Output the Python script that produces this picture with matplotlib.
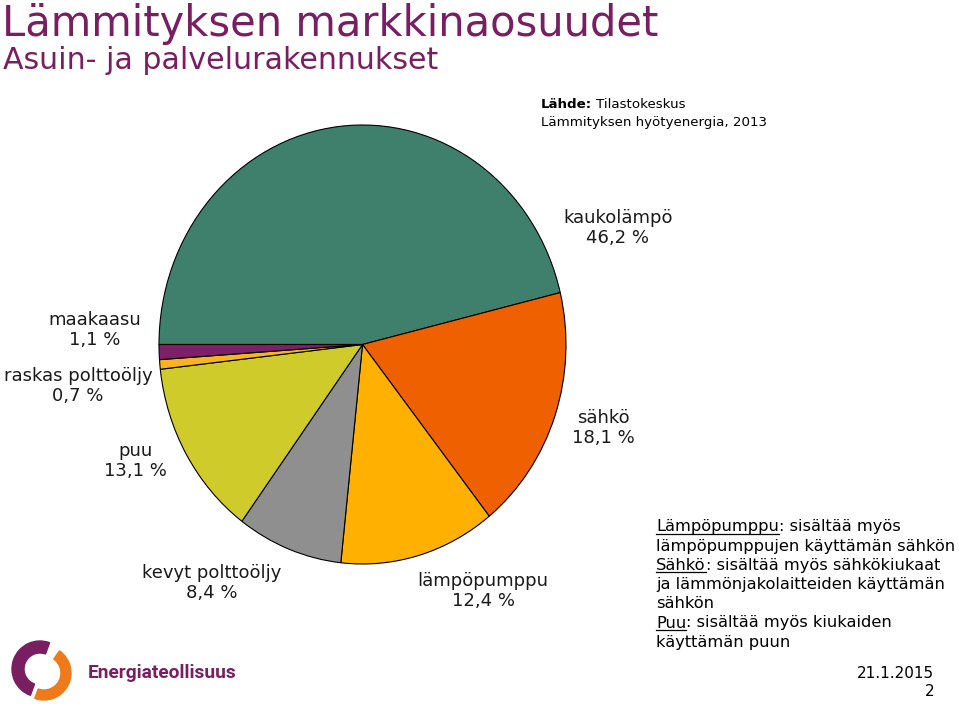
import matplotlib.pyplot as plt
from matplotlib.patches import Wedge
from matplotlib.lines import Line2D

W, H = 959, 705

labels = ['kaukolämpö', 'sähkö', 'lämpöpumppu', 'kevyt polttoöljy',
          'puu', 'raskas polttoöljy', 'maakaasu']
shares = [46.2, 18.1, 12.4, 8.4, 13.1, 0.7, 1.1]
colors = ['#3E806C', '#EF6100', '#FFB000', '#8F8F8F',
          '#CECB2B', '#F7B320', '#7D2069']
# label centres in pixels (layout only)
label_pos = [(618, 228), (603, 428), (483, 591), (212, 583),
             (135, 461), (78, 386), (95, 330)]

notes = [('Lämpöpumppu', ': sisältää myös'),
         ('', 'lämpöpumppujen käyttämän sähkön'),
         ('Sähkö', ': sisältää myös sähkökiukaat'),
         ('', 'ja lämmönjakolaitteiden käyttämän'),
         ('', 'sähkön'),
         ('Puu', ': sisältää myös kiukaiden'),
         ('', 'käyttämän puun')]

purple = '#7A1E62'


def fx(x):
    return x / W


def fy(y):
    return 1 - y / H


fig = plt.figure(figsize=(W / 100, H / 100), dpi=100)

# titles
fig.text(fx(2), fy(36), 'Lämmityksen markkinaosuudet', fontsize=30,
         color=purple, va='baseline')
fig.text(fx(3), fy(69), 'Asuin- ja palvelurakennukset', fontsize=21.6,
         color=purple, va='baseline')

# source
t = fig.text(fx(541), fy(108), 'Lähde:', fontsize=9.6, weight='bold',
             va='baseline')
fig.canvas.draw()
rend = fig.canvas.get_renderer()
bb = t.get_window_extent(rend)
fig.text(bb.x1 / W + 0.004, fy(108), 'Tilastokeskus', fontsize=9.6,
         va='baseline')
fig.text(fx(541), fy(126), 'Lämmityksen hyötyenergia, 2013', fontsize=9.6,
         va='baseline')

# pie (slightly taller than wide, as in the original)
cx, cy, rx, ry = 362.5, 344.5, 203.5, 219.5
ax = fig.add_axes([fx(cx - rx), fy(cy + ry), 2 * rx / W, 2 * ry / H])
wedges, _ = ax.pie(shares, colors=colors, startangle=180, counterclock=False,
                   wedgeprops=dict(edgecolor='black', linewidth=0.8))
ax.set_xlim(-1, 1)
ax.set_ylim(-1, 1)
ax.set_aspect('auto')
ax.axis('off')
for w in wedges:
    w.set_clip_on(False)

for lab, val, (x, y) in zip(labels, shares, label_pos):
    txt = f'{lab}\n{val:.1f} %'.replace('.', ',')
    fig.text(fx(x), fy(y), txt, ha='center', va='center', fontsize=13,
             linespacing=1.2, color='#1a1a1a')

# notes with underlined keywords
for i, (key, rest) in enumerate(notes):
    base = 531.5 + 19.2 * i
    x0 = fx(656)
    if key:
        kt = fig.text(x0, fy(base), key, fontsize=11.7, va='baseline')
        kb = kt.get_window_extent(rend)
        fig.add_artist(Line2D([kb.x0 / W, kb.x1 / W],
                              [fy(base + 2.5), fy(base + 2.5)],
                              color='black', lw=0.9))
        fig.text(kb.x1 / W, fy(base), rest, fontsize=11.7, va='baseline')
    else:
        fig.text(x0, fy(base), rest, fontsize=11.7, va='baseline')

fig.text(fx(934), fy(678), '21.1.2015', fontsize=11, ha='right',
         va='baseline')
fig.text(fx(934), fy(696), '2', fontsize=11, ha='right', va='baseline')

# logo
lax = fig.add_axes([fx(6), fy(704), 72 / W, 66 / H])
lax.set_xlim(0, 72)
lax.set_ylim(0, 66)
lax.set_aspect('equal')
lax.axis('off')
lax.add_patch(Wedge((34, 35), 28, 70, 250, width=12, color=purple))
lax.add_patch(Wedge((38, 31), 27, -110, 55, width=10, color='#EE7A1A'))
fig.text(fx(88), fy(678), 'Energiateollisuus', fontsize=13.8,
         family='Roboto', weight='bold', color=purple, va='baseline')

fig.savefig('out.png', dpi=100)
